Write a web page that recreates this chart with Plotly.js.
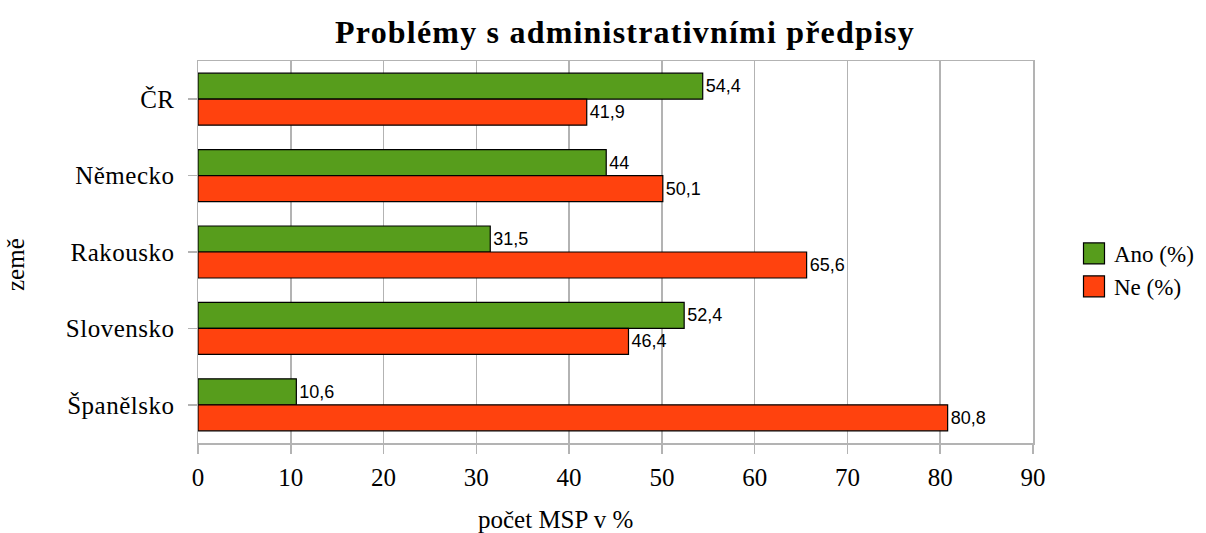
<!DOCTYPE html>
<html>
<head>
<meta charset="utf-8">
<script src="https://cdn.plot.ly/plotly-3.0.1.min.js"></script>
<style>
html,body{margin:0;padding:0;background:#fff;}
#chart{width:1206px;height:533px;}
#chart .gtitle{letter-spacing:1.2px;}
#chart .ytick text{letter-spacing:0.5px;}
</style>
</head>
<body>
<div id="chart"></div>
<script>
const categories = ["ČR", "Německo", "Rakousko", "Slovensko", "Španělsko"];
const anoValues = [54.4, 44, 31.5, 52.4, 10.6];
const neValues = [41.9, 50.1, 65.6, 46.4, 80.8];
const seriesNames = ["Ano (%)", "Ne (%)"];
const xTicks = [0, 10, 20, 30, 40, 50, 60, 70, 80, 90];

const fmt = v => String(v).replace('.', ',');
const serif = "Liberation Serif, Times New Roman, serif";
const sans = "Liberation Sans, Arial, sans-serif";

function barTrace(name, vals, color) {
  return {
    type: 'bar', orientation: 'h', name: name,
    y: categories, x: vals,
    text: vals.map(fmt), textposition: 'outside', cliponaxis: false,
    textfont: {family: sans, size: 18, color: '#000'},
    marker: {color: color, line: {color: '#000', width: 1.2}},
    hoverinfo: 'x+y'
  };
}

const data = [
  barTrace(seriesNames[0], anoValues, '#579d1c'),
  barTrace(seriesNames[1], neValues, '#ff420e')
];

const layout = {
  width: 1206, height: 533,
  margin: {l: 198, r: 173, t: 61, b: 90, pad: 0, autoexpand: false},
  paper_bgcolor: '#fff', plot_bgcolor: '#fff',
  barmode: 'group', bargap: 0.32, bargroupgap: 0,
  separators: ', ',
  font: {family: serif, size: 25, color: '#000'},
  title: {
    text: '<b>Problémy s administrativními předpisy</b>',
    font: {family: serif, size: 32, color: '#000'},
    x: (625 - 198) / 835, xref: 'paper', xanchor: 'center',
    y: 1 - 32 / 533, yref: 'container', yanchor: 'middle',
    automargin: false
  },
  xaxis: {
    range: [0, 90], tickvals: xTicks, ticktext: xTicks.map(String),
    showgrid: true, gridcolor: '#b3b3b3', gridwidth: 1.5,
    zeroline: false, showline: true, mirror: true, linecolor: '#b3b3b3', linewidth: 1.5,
    ticks: 'outside', ticklen: 9, tickcolor: '#b3b3b3', tickwidth: 1.5,
    ticklabelstandoff: 2,
    tickfont: {family: serif, size: 25, color: '#000'},
    automargin: false, fixedrange: true
  },
  yaxis: {
    type: 'category', autorange: 'reversed',
    showgrid: false, zeroline: false, showline: true, mirror: true,
    linecolor: '#b3b3b3', linewidth: 1.5,
    ticks: 'outside', ticklen: 9, tickcolor: '#b3b3b3', tickwidth: 1.5,
    ticklabelstandoff: 8,
    tickfont: {family: serif, size: 25, color: '#000'},
    automargin: false, fixedrange: true
  },
  legend: {
    x: (1074 - 198) / 835, xanchor: 'left',
    y: (443 - 270) / 382, yanchor: 'middle',
    font: {family: serif, size: 23, color: '#000'},
    traceorder: 'normal', bgcolor: 'rgba(0,0,0,0)', itemwidth: 30
  },
  annotations: [
    {text: 'počet MSP v %', xref: 'paper', yref: 'paper',
     x: (555 - 198) / 835, y: -(519 - 443) / 382, xanchor: 'center', yanchor: 'middle',
     showarrow: false, font: {family: serif, size: 25, color: '#000'}},
    {text: 'země', xref: 'paper', yref: 'paper', textangle: -90,
     x: -(198 - 15) / 835, y: (443 - 265) / 382, xanchor: 'center', yanchor: 'middle',
     showarrow: false, font: {family: serif, size: 25, color: '#000'}}
  ],
  showlegend: true
};

Plotly.newPlot('chart', data, layout, {displayModeBar: false, staticPlot: true}).then(() => {
  document.querySelectorAll('#chart .legend .legendpoints path').forEach(p => {
    const b = p.getBBox();
    const cx = b.x + b.width / 2, cy = b.y + b.height / 2, h = 10.5;
    p.setAttribute('d', `M${cx + h},${cy + h}H${cx - h}V${cy - h}H${cx + h}Z`);
    p.style.strokeWidth = '1.2px';
  });
});
</script>
</body>
</html>
